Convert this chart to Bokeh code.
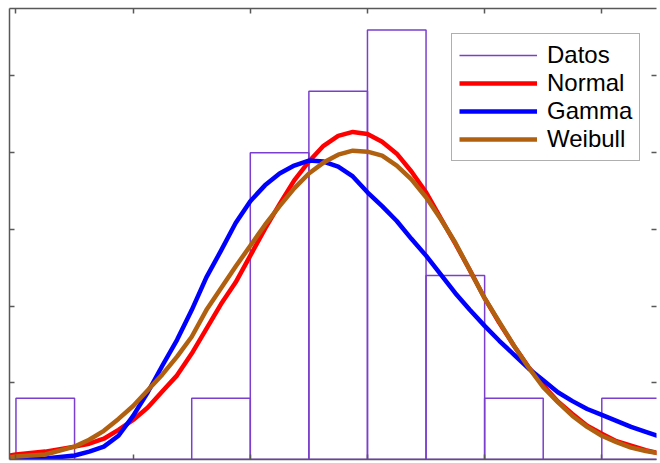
from bokeh.plotting import figure
from bokeh.models import (Range1d, LinearAxis, FixedTicker, Legend, LegendItem,
                          CustomLabelingPolicy)
from bokeh.embed import file_html
from bokeh.resources import INLINE

# ---- data ----
bin_edges = [0.0, 0.5, 1.0, 1.5, 2.0, 2.5, 3.0, 3.5, 4.0, 4.5, 5.0, 5.5]
counts = [1, 0, 0, 1, 5, 6, 7, 3, 1, 0, 1]
n_total = 25
bin_width = 0.5
density = [c / (n_total * bin_width) for c in counts]

x_fit = [-0.05, 0.0, 0.25, 0.5, 0.625, 0.75, 0.875, 1.0, 1.125, 1.25, 1.375, 1.5,
         1.625, 1.75, 1.875, 2.0, 2.125, 2.25, 2.375, 2.5, 2.625, 2.75, 2.875, 3.0,
         3.125, 3.25, 3.375, 3.5, 3.625, 3.75, 3.875, 4.0, 4.125, 4.25, 4.375, 4.5,
         4.625, 4.75, 4.875, 5.0, 5.125, 5.25, 5.375, 5.5]
normal_pdf = [0.0052, 0.0065, 0.0103, 0.0168, 0.0206, 0.0271, 0.0387, 0.0516, 0.0679,
              0.0890, 0.1097, 0.1381, 0.1703, 0.2026, 0.2310, 0.2658, 0.3006, 0.3329,
              0.3639, 0.3884, 0.4090, 0.4219, 0.4271, 0.4245, 0.4142, 0.3987, 0.3755,
              0.3484, 0.3148, 0.2813, 0.2465, 0.2103, 0.1781, 0.1484, 0.1205, 0.0968,
              0.0755, 0.0594, 0.0441, 0.0335, 0.0239, 0.0181, 0.0121, 0.0077]
gamma_pdf = [0.0, 0.0, 0.0013, 0.0052, 0.0103, 0.0168, 0.0310, 0.0568, 0.0877,
             0.1226, 0.1561, 0.1948, 0.2374, 0.2723, 0.3084, 0.3368, 0.3574, 0.3729,
             0.3832, 0.3897, 0.3884, 0.3819, 0.3690, 0.3484, 0.3303, 0.3110, 0.2877,
             0.2658, 0.2413, 0.2168, 0.1948, 0.1742, 0.1548, 0.1368, 0.1187, 0.1032,
             0.0877, 0.0761, 0.0658, 0.0581, 0.0503, 0.0426, 0.0361, 0.0297]
weibull_pdf = [0.0026, 0.0039, 0.0065, 0.0168, 0.0258, 0.0374, 0.0529, 0.0697, 0.0903,
               0.1110, 0.1342, 0.1600, 0.1948, 0.2232, 0.2516, 0.2787, 0.3058, 0.3303,
               0.3535, 0.3729, 0.3871, 0.3974, 0.4026, 0.4013, 0.3961, 0.3832, 0.3652,
               0.3419, 0.3135, 0.2826, 0.2465, 0.2103, 0.1794, 0.1484, 0.1200, 0.0942,
               0.0748, 0.0568, 0.0426, 0.0310, 0.0226, 0.0155, 0.0110, 0.0077]

x_ticks = [0, 1, 2, 3, 4, 5]
y_ticks = [0.1, 0.2, 0.3, 0.4, 0.5]
labels = ["Datos", "Normal", "Gamma", "Weibull"]

PURPLE = "#7a3fcc"
RED = "#ff0000"
BLUE = "#0000ff"
BROWN = "#b0600f"
AXC = "#585858"

p = figure(width=660, height=463, output_backend="svg", toolbar_location=None,
           x_range=Range1d(-0.0552, 5.4669), y_range=Range1d(0, 0.588),
           x_axis_location=None, y_axis_location=None,
           min_border_left=9, min_border_right=1, min_border_top=8, min_border_bottom=2)
p.outline_line_color = None
p.background_fill_color = "white"
p.border_fill_color = "white"
p.xgrid.visible = False
p.ygrid.visible = False

no_labels = CustomLabelingPolicy(code="if (false) { yield 0 }")


def mk_axis(ticks, line=True):
    ax = LinearAxis(ticker=FixedTicker(ticks=ticks))
    ax.major_label_policy = no_labels
    ax.major_label_text_font_size = "1px"
    ax.major_label_standoff = 0
    ax.major_tick_in = 5
    ax.major_tick_out = 0
    ax.minor_tick_in = 0
    ax.minor_tick_out = 0
    ax.axis_line_color = AXC if line else None
    ax.axis_line_width = 1.5
    ax.major_tick_line_color = AXC
    ax.major_tick_line_width = 1.5
    return ax


p.add_layout(mk_axis(x_ticks), "below")
p.add_layout(mk_axis(x_ticks), "above")
p.add_layout(mk_axis(y_ticks), "left")
p.add_layout(mk_axis(y_ticks, line=False), "right")

p.quad(left=bin_edges[:-1], right=bin_edges[1:], bottom=0, top=density,
       fill_color=None, line_color=PURPLE, line_width=1.5)
base = p.line(x=[bin_edges[0], bin_edges[-1]], y=[0, 0], line_color=PURPLE, line_width=1.5)

r_n = p.line(x_fit, normal_pdf, line_color=RED, line_width=4.5, line_join="round")
r_g = p.line(x_fit, gamma_pdf, line_color=BLUE, line_width=4.5, line_join="round")
r_w = p.line(x_fit, weibull_pdf, line_color=BROWN, line_width=4.5, line_join="round")

legend = Legend(items=[LegendItem(label=labels[0], renderers=[base]),
                       LegendItem(label=labels[1], renderers=[r_n]),
                       LegendItem(label=labels[2], renderers=[r_g]),
                       LegendItem(label=labels[3], renderers=[r_w])],
                location=(442, 298), margin=0, padding=7, spacing=0,
                glyph_width=78, glyph_height=28, label_height=28, label_standoff=10,
                label_text_font="Liberation Sans", label_text_font_size="24px",
                label_text_color="black",
                border_line_color="#606060", border_line_width=1.5,
                background_fill_color="white", background_fill_alpha=1.0)
p.add_layout(legend)

open("out.html", "w").write(file_html(p, INLINE))
